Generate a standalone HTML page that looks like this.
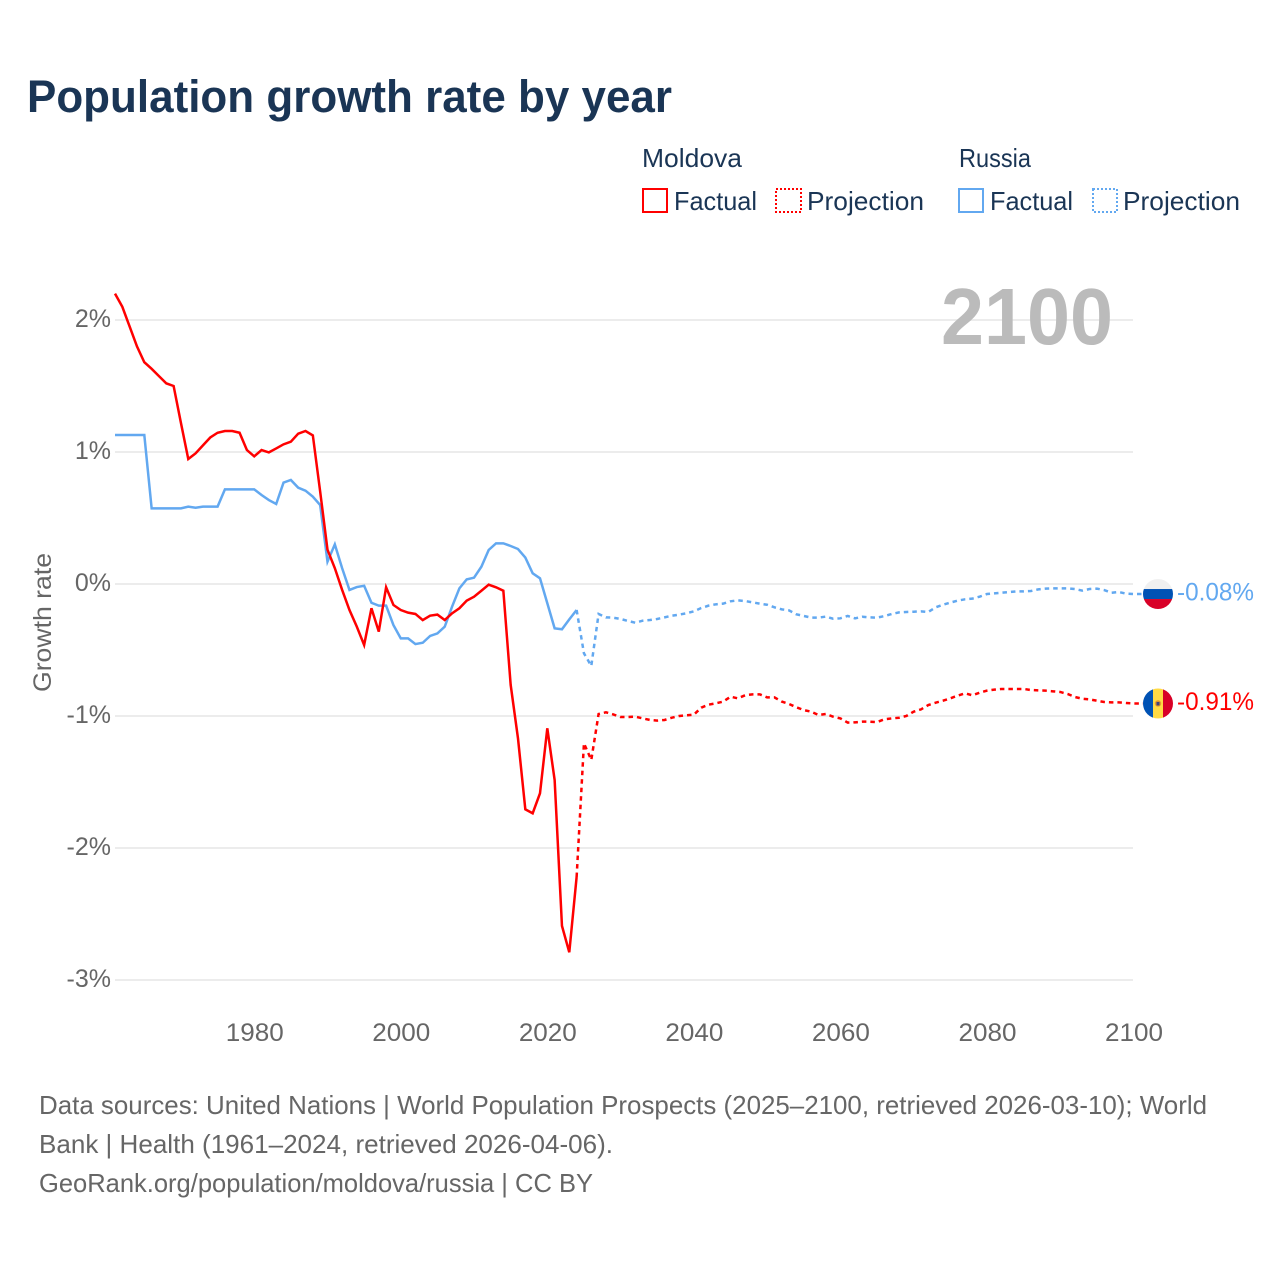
<!DOCTYPE html>
<html lang="en">
<head>
<meta charset="utf-8">
<title>Population growth rate by year</title>
<style>
html,body{margin:0;padding:0;background:#fff}
svg{display:block;font-family:"Liberation Sans",sans-serif}
</style>
</head>
<body>
<svg id="chart" width="1280" height="1280" viewBox="0 0 1280 1280" xmlns="http://www.w3.org/2000/svg">
  <defs>
    <clipPath id="ru-clip"><circle id="ru-clip-circle" cx="1158" cy="594" r="15"/></clipPath>
    <clipPath id="md-clip"><circle id="md-clip-circle" cx="1158" cy="703" r="15"/></clipPath>
  </defs>
  <rect width="1280" height="1280" fill="#fff"/>
  <text x="27" y="112" font-size="45" font-weight="700" fill="#1a3555" textLength="645" lengthAdjust="spacingAndGlyphs">Population growth rate by year</text>

  <g font-size="26" fill="#1a3555">
    <text x="642" y="167" textLength="100" lengthAdjust="spacingAndGlyphs">Moldova</text>
    <text x="959" y="167" textLength="72" lengthAdjust="spacingAndGlyphs">Russia</text>
    <g>
      <rect x="643" y="189" width="24" height="23" fill="none" stroke="#ff0000" stroke-width="2"/>
      <text x="674" y="210" textLength="83" lengthAdjust="spacingAndGlyphs">Factual</text>
    </g>
    <g>
      <rect x="776" y="189" width="25" height="23" fill="none" stroke="#ff0000" stroke-width="2" stroke-dasharray="2 2"/>
      <text x="807" y="210" textLength="117" lengthAdjust="spacingAndGlyphs">Projection</text>
    </g>
    <g>
      <rect x="959" y="189" width="24" height="23" fill="none" stroke="#62a8f0" stroke-width="2"/>
      <text x="990" y="210" textLength="83" lengthAdjust="spacingAndGlyphs">Factual</text>
    </g>
    <g>
      <rect x="1093" y="189" width="24" height="23" fill="none" stroke="#62a8f0" stroke-width="2" stroke-dasharray="2 2"/>
      <text x="1123" y="210" textLength="117" lengthAdjust="spacingAndGlyphs">Projection</text>
    </g>
  </g>

  <g id="grid"></g>
  <g id="yticks"></g>
  <g id="xticks"></g>

  <text transform="translate(51 622.5) rotate(-90)" text-anchor="middle" font-size="25" fill="#666" textLength="139" lengthAdjust="spacingAndGlyphs">Growth rate</text>
  <text x="941" y="344" font-size="80" font-weight="700" fill="#bbbbbb" textLength="172" lengthAdjust="spacingAndGlyphs">2100</text>

  <g id="series"></g>

  <g id="ru-flag" clip-path="url(#ru-clip)"></g>
  <g id="md-flag" clip-path="url(#md-clip)"></g>
  <text id="ru-label" x="1177" font-size="25" fill="#62a8f0" textLength="77" lengthAdjust="spacingAndGlyphs"></text>
  <text id="md-label" x="1177" font-size="25" fill="#ff0000" textLength="77" lengthAdjust="spacingAndGlyphs"></text>

  <g font-size="26" fill="#666">
    <text x="39" y="1114" textLength="1168" lengthAdjust="spacingAndGlyphs">Data sources: United Nations | World Population Prospects (2025–2100, retrieved 2026-03-10); World</text>
    <text x="39" y="1153" textLength="574" lengthAdjust="spacingAndGlyphs">Bank | Health (1961–2024, retrieved 2026-04-06).</text>
    <text x="39" y="1192" textLength="554" lengthAdjust="spacingAndGlyphs">GeoRank.org/population/moldova/russia | CC BY</text>
  </g>
</svg>
<script>
const yTickValues = [2, 1, 0, -1, -2, -3];
const xTickYears = [1980, 2000, 2020, 2040, 2060, 2080, 2100];
const factualStartYear = 1961;
const projectionStartYear = 2024;

const moldovaFactual = [
  2.20, 2.10, 1.95, 1.80, 1.68, 1.63, 1.575, 1.52, 1.50, 1.22,
  0.947, 0.99, 1.05, 1.11, 1.146, 1.159, 1.159, 1.146, 1.015, 0.967,
  1.015, 0.997, 1.027, 1.058, 1.078, 1.139, 1.159, 1.126, 0.70, 0.26,
  0.12, -0.045, -0.197, -0.323, -0.462, -0.184, -0.361, -0.025, -0.159, -0.197,
  -0.217, -0.227, -0.273, -0.24, -0.232, -0.273, -0.222, -0.184, -0.126, -0.096,
  -0.051, -0.005, -0.025, -0.051, -0.765, -1.17, -1.707, -1.737, -1.586, -1.093,
  -1.485, -2.59, -2.79, -2.22
];
const moldovaProjection = [
  -2.22, -1.207, -1.333, -0.985, -0.972, -0.988, -1.008, -1.008, -1.005, -1.018,
  -1.03, -1.035, -1.03, -1.013, -1.0, -0.995, -0.99, -0.937, -0.914, -0.904,
  -0.891, -0.854, -0.866, -0.843, -0.836, -0.836, -0.859, -0.859, -0.891, -0.909,
  -0.934, -0.955, -0.967, -0.992, -0.985, -1.005, -1.018, -1.05, -1.048, -1.043,
  -1.043, -1.046, -1.025, -1.018, -1.013, -1.0, -0.967, -0.95, -0.917, -0.899,
  -0.884, -0.866, -0.846, -0.828, -0.843, -0.823, -0.808, -0.8, -0.795, -0.795,
  -0.795, -0.795, -0.803, -0.806, -0.808, -0.813, -0.818, -0.833, -0.856, -0.869,
  -0.874, -0.884, -0.894, -0.897, -0.897, -0.902, -0.905
];
const russiaFactual = [
  1.129, 1.129, 1.129, 1.129, 1.129, 0.573, 0.573, 0.573, 0.573, 0.573,
  0.586, 0.578, 0.586, 0.586, 0.586, 0.717, 0.717, 0.717, 0.717, 0.717,
  0.674, 0.636, 0.606, 0.768, 0.788, 0.73, 0.707, 0.662, 0.598, 0.169,
  0.30, 0.119, -0.045, -0.023, -0.013, -0.142, -0.164, -0.164, -0.311, -0.412,
  -0.412, -0.455, -0.445, -0.394, -0.374, -0.323, -0.172, -0.033, 0.035, 0.048,
  0.131, 0.258, 0.308, 0.308, 0.288, 0.265, 0.20, 0.081, 0.043, -0.146,
  -0.336, -0.343, -0.268, -0.197
];
const russiaProjection = [
  -0.197, -0.525, -0.621, -0.227, -0.253, -0.255, -0.265, -0.28, -0.293, -0.278,
  -0.273, -0.265, -0.253, -0.24, -0.232, -0.222, -0.207, -0.182, -0.164, -0.154,
  -0.149, -0.131, -0.124, -0.129, -0.139, -0.149, -0.157, -0.177, -0.192, -0.20,
  -0.23, -0.242, -0.255, -0.255, -0.247, -0.263, -0.26, -0.242, -0.26, -0.248,
  -0.253, -0.255, -0.243, -0.227, -0.215, -0.212, -0.21, -0.207, -0.212, -0.177,
  -0.157, -0.141, -0.126, -0.116, -0.111, -0.096, -0.076, -0.071, -0.066, -0.061,
  -0.056, -0.056, -0.053, -0.041, -0.035, -0.033, -0.033, -0.033, -0.038, -0.05,
  -0.038, -0.035, -0.046, -0.066, -0.061, -0.073, -0.076
];
const moldovaEndLabel = "-0.91%";
const russiaEndLabel = "-0.08%";

const NS = "http://www.w3.org/2000/svg";
const FLAG_EDGE_X = 1143;
function xScale(year) { return 115 + (year - 1961) * (1133.5 - 115) / 139; }
function yScale(value) { return 584 - value * 132; }
function make(tag, parent, attrs) {
  const el = document.createElementNS(NS, tag);
  for (const k in attrs) el.setAttribute(k, attrs[k]);
  parent.appendChild(el);
  return el;
}

const grid = document.getElementById("grid");
const yticks = document.getElementById("yticks");
yTickValues.forEach(function (v) {
  const line = make("line", grid, { x1: 115, x2: 1133, y1: yScale(v), y2: yScale(v), stroke: "#ececec", "stroke-width": 2 });
  
  
  const t = make("text", yticks, { x: 111, y: yScale(v) + 7, "text-anchor": "end", "font-size": 25, fill: "#666" });
  
  
  t.textContent = v + "%";
});

const xticks = document.getElementById("xticks");
xTickYears.forEach(function (yr) {
  const t = make("text", xticks, { x: xScale(yr) + 0.5, y: 1041, "text-anchor": "middle", "font-size": 25, fill: "#666", textLength: 58, lengthAdjust: "spacingAndGlyphs" });
  
  
  t.textContent = String(yr);
});

function pathFor(values, startYear) {
  return values.map(function (v, i) {
    return (i ? "L" : "M") + xScale(startYear + i).toFixed(2) + " " + yScale(v).toFixed(2);
  }).join(" ");
}
const series = document.getElementById("series");
function drawLine(values, startYear, color, dashed) {
  let d = pathFor(values, startYear);
  const attrs = { fill: "none", stroke: color, "stroke-width": 2.5, "stroke-linejoin": "miter" };
  if (dashed) {
    attrs["stroke-dasharray"] = "4.5 4";
    d += " L" + FLAG_EDGE_X + " " + yScale(values[values.length - 1]).toFixed(2);
  }
  attrs.d = d;
  return make("path", series, attrs);
}
const lineRuF = drawLine(russiaFactual, factualStartYear, "#62a8f0", false);


const lineRuP = drawLine(russiaProjection, projectionStartYear, "#62a8f0", true);


const lineMdF = drawLine(moldovaFactual, factualStartYear, "#ff0000", false);


const lineMdP = drawLine(moldovaProjection, projectionStartYear, "#ff0000", true);



const ruY = yScale(russiaProjection[russiaProjection.length - 1]);
const mdY = yScale(moldovaProjection[moldovaProjection.length - 1]);
document.getElementById("ru-clip-circle").setAttribute("cy", ruY);
document.getElementById("md-clip-circle").setAttribute("cy", mdY);

const ruFlag = document.getElementById("ru-flag");
[["#f0f0f0", -15], ["#0052b4", -5], ["#d80027", 5]].forEach(function (s) {
  const r = make("rect", ruFlag, { x: 1143, y: ruY + s[1], width: 30, height: 10, fill: s[0] });
  
  
});
const mdFlag = document.getElementById("md-flag");
[["#0052b4", 1143], ["#ffda44", 1153], ["#d80027", 1163]].forEach(function (s) {
  const r = make("rect", mdFlag, { x: s[1], y: mdY - 15, width: 10, height: 30, fill: s[0] });
  
  
});
const emblemA = make("circle", mdFlag, { cx: 1158, cy: mdY, r: 3.2, fill: "#e59a2f" });


const emblemB = make("rect", mdFlag, { x: 1156.5, y: mdY - 1.5, width: 3, height: 3.5, fill: "#40407a" });



const ruLabel = document.getElementById("ru-label");
ruLabel.setAttribute("y", ruY + 6.5);
ruLabel.textContent = russiaEndLabel;
const mdLabel = document.getElementById("md-label");
mdLabel.setAttribute("y", mdY + 6.5);
mdLabel.textContent = moldovaEndLabel;
</script>
</body>
</html>
